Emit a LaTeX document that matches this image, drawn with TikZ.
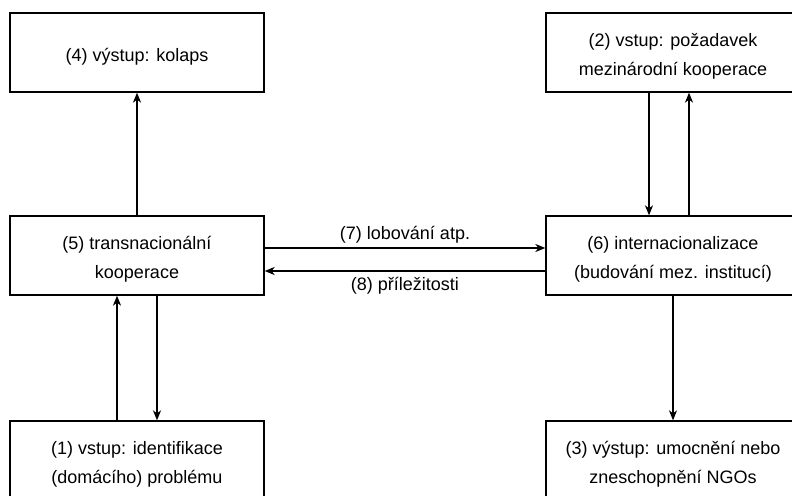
\documentclass[tikz,border=0pt]{standalone}
\usepackage{fontspec}
\setmainfont{Liberation Sans}
\usetikzlibrary{arrows.meta}
\begin{document}
\begin{tikzpicture}[x=1pt,y=-1pt,
    box/.style={draw, line width=1.3pt, minimum width=254pt, minimum height=79pt, inner sep=0pt},
    boxtext/.style={align=center, inner sep=0pt, yshift=-4pt, font=\fontsize{18}{29}\selectfont},
    flow/.style={line width=1.3pt, -{Stealth[length=10pt,width=8pt,inset=3pt]}},
    lbl/.style={font=\fontsize{18}{29}\selectfont, inner sep=4pt}]

    % Fix the page to the size of the reference
    \useasboundingbox (0,0) rectangle (792,495);

    % Column and row positions
    \def\xl{137}
    \def\xr{673}
    \def\yt{52.5}
    \def\ym{255.5}
    \def\yb{460.5}

    % The six boxes
    \node[box, label={[boxtext]center:{(4) výstup: kolaps}}] (kolaps) at (\xl,\yt) {};
    \node[box, label={[boxtext]center:{(2) vstup: požadavek\\mezinárodní kooperace}}] (pozadavek) at (\xr,\yt) {};
    \node[box, label={[boxtext]center:{(5) transnacionální\\kooperace}}] (transnac) at (\xl,\ym) {};
    \node[box, label={[boxtext]center:{(6) internacionalizace\\(budování mez. institucí)}}] (internac) at (\xr,\ym) {};
    \node[box, label={[boxtext]center:{(1) vstup: identifikace\\(domácího) problému}}] (identif) at (\xl,\yb) {};
    \node[box, label={[boxtext]center:{(3) výstup: umocnění nebo\\zneschopnění NGOs}}] (umocneni) at (\xr,\yb) {};

    % Vertical links on the left
    \draw[flow] (transnac.north) -- (kolaps.south);
    \draw[flow] ([xshift=-20pt]identif.north) -- ([xshift=-20pt]transnac.south);
    \draw[flow] ([xshift=20pt]transnac.south) -- ([xshift=20pt]identif.north);

    % Vertical links on the right
    \draw[flow] ([xshift=-24pt]pozadavek.south) -- ([xshift=-24pt]internac.north);
    \draw[flow] ([xshift=16pt]internac.north) -- ([xshift=16pt]pozadavek.south);
    \draw[flow] (internac.south) -- (umocneni.north);

    % Horizontal links between the middle boxes
    \draw[flow] ([yshift=7.5pt]transnac.east) -- ([yshift=7.5pt]internac.west)
        node[lbl, midway, above] (lobby) {(7) lobování atp.};
    \draw[flow] ([yshift=-15.5pt]internac.west) -- ([yshift=-15.5pt]transnac.east)
        node[lbl, midway, below, inner sep=6pt] (prilez) {(8) příležitosti};

\end{tikzpicture}
\end{document}
